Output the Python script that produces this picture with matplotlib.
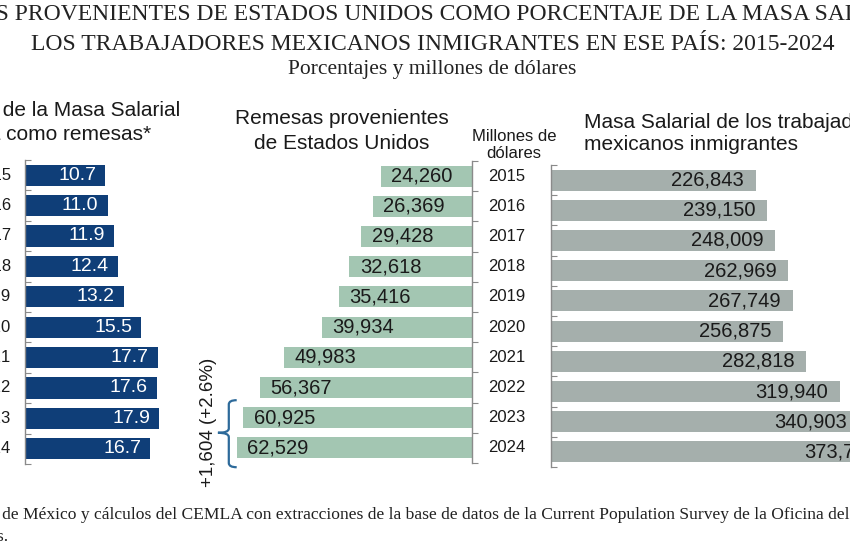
import numpy as np
import matplotlib.pyplot as plt
from matplotlib.path import Path
from matplotlib.patches import PathPatch

# data
years = [2015, 2016, 2017, 2018, 2019, 2020, 2021, 2022, 2023, 2024]
pct_remesas = [10.7, 11.0, 11.9, 12.4, 13.2, 15.5, 17.7, 17.6, 17.9, 16.7]
remesas = [24260, 26369, 29428, 32618, 35416, 39934, 49983, 56367, 60925, 62529]
masa_salarial = [226843, 239150, 248009, 262969, 267749, 256875, 282818, 319940, 340903, 373737]

title_1 = "REMESAS PROVENIENTES DE ESTADOS UNIDOS COMO PORCENTAJE DE LA MASA SALARIAL DE"
title_2 = "LOS TRABAJADORES MEXICANOS INMIGRANTES EN ESE PAÍS: 2015-2024"
subtitle = "Porcentajes y millones de dólares"
footer_1 = ("Banco de México y cálculos del CEMLA con extracciones de la base de datos "
            "de la Current Population Survey de la Oficina del Censo de Estados")
footer_2 = "Unidos."

NAVY = "#0f3e78"
GREEN = "#a3c6b2"
GRAY = "#a5afac"
AXIS = "#8a8a8a"
TXT = "#1a1a1a"

W, H = 850, 550
plt.rcParams["font.family"] = ["Liberation Sans", "DejaVu Sans"]
fig = plt.figure(figsize=(W / 100, H / 100), dpi=100)
renderer = fig.canvas.get_renderer()


def ax_px(x0, y0, x1, y1):
    return fig.add_axes([x0 / W, 1 - y1 / H, (x1 - x0) / W, (y1 - y0) / H])


def txt(x, y, s, **kw):
    return fig.text(x / W, 1 - y / H, s, **kw)


def width_px(s, **kw):
    t = fig.text(0, 0, s, **kw)
    w = t.get_window_extent(renderer).width
    t.remove()
    return w


def txt_anchor(x, y, full, visible, **kw):
    # place full text so that the visible part starts at x (the rest is cut by the edge)
    off = width_px(full, **kw) - width_px(visible, **kw)
    return txt(x - off, y, full, ha="left", **kw)


def style(ax, side, direction):
    for s in ax.spines.values():
        s.set_visible(False)
    ax.spines[side].set_visible(True)
    ax.spines[side].set_color(AXIS)
    ax.spines[side].set_linewidth(1.0)
    ax.set_ylim(len(years) - 0.5, -0.5)
    ax.set_yticks(np.arange(-0.5, len(years)))
    if side == "right":
        ax.yaxis.tick_right()
    ax.tick_params(axis="y", length=4, width=0.8, color=AXIS, direction=direction,
                   labelleft=False, labelright=False)
    ax.set_xticks([])
    ax.patch.set_alpha(0)


pos = np.arange(len(years))
serif = dict(family=["Liberation Serif", "DejaVu Serif"], color="#222222")

# titles
txt_anchor(15, 15, title_1, title_1[8:], va="center", fontsize=17, **serif)
txt(433, 45, title_2, ha="center", va="center", fontsize=17, **serif)
txt(432, 70, subtitle, ha="center", va="center", fontsize=15.5, **serif)

# left panel: percentage
ax1 = ax_px(25, 160, 175, 464)
ax1.barh(pos, pct_remesas, height=0.7, color=NAVY)
ax1.set_xlim(0, 20)
style(ax1, "left", "in")
for i, v in enumerate(pct_remesas):
    ax1.annotate(f"{v:.1f}", xy=(v, i), xytext=(-6.5, 0), textcoords="offset points",
                 ha="right", va="center", color="white", fontsize=14)
    ax1.annotate(str(years[i]), xy=(0, i), xytext=(-10.2, 0), textcoords="offset points",
                 ha="right", va="center", color=TXT, fontsize=12, annotation_clip=False)
txt_anchor(3, 110, "Porcentaje de la Masa Salarial", "de la Masa Salarial",
           va="center", fontsize=15, color=TXT)
txt_anchor(6, 134, "enviada como remesas*", "como remesas*",
           va="center", fontsize=15, color=TXT)

# middle panel: remittances
ax2 = ax_px(209, 161, 472, 463)
ax2.barh(pos, remesas, height=0.7, color=GREEN)
ax2.set_xlim(70000, 0)
style(ax2, "right", "out")
for i, v in enumerate(remesas):
    ax2.annotate(f"{v:,}", xy=(v, i), xytext=(7.5, 0), textcoords="offset points",
                 ha="left", va="center", color=TXT, fontsize=14.5)
    ax2.annotate(str(years[i]), xy=(0, i), xytext=(25.2, 0), textcoords="offset points",
                 ha="center", va="center", color=TXT, fontsize=12, annotation_clip=False)
txt(342, 131, "Remesas provenientes\nde Estados Unidos", ha="center", va="center",
    fontsize=15, color=TXT, linespacing=1.35)
txt(514, 145, "Millones de\ndólares", ha="center", va="center", fontsize=12,
    color=TXT, linespacing=1.2)

# brace over the last two years
x_arm = max(remesas[-2:]) + 100
x_spine = x_arm + 2100
x_tip = x_spine + 2900
y_top, y_mid, y_bot, r = len(years) - 2.58, len(years) - 1.5, len(years) - 0.36, 0.14
verts = [(x_arm, y_top), (x_spine, y_top), (x_spine, y_top + r),
         (x_spine, y_mid - r), (x_spine, y_mid), (x_tip, y_mid),
         (x_spine, y_mid), (x_spine, y_mid + r),
         (x_spine, y_bot - r), (x_spine, y_bot), (x_arm, y_bot)]
codes = [Path.MOVETO, Path.CURVE3, Path.CURVE3,
         Path.LINETO, Path.CURVE3, Path.CURVE3,
         Path.CURVE3, Path.CURVE3,
         Path.LINETO, Path.CURVE3, Path.CURVE3]
ax2.add_patch(PathPatch(Path(verts, codes), fill=False, edgecolor="#2d6a9a", lw=1.6,
                        clip_on=False))
diff = remesas[-1] - remesas[-2]
ax2.text(x_tip + 2400, len(years) - 1.85, f"+{diff:,} (+{100 * diff / remesas[-2]:.1f}%)",
         rotation=90, ha="center", va="center", fontsize=13.5, color=TXT, clip_on=False)

# right panel: wage bill
ax3 = ax_px(551, 165, 912, 467)
ax3.barh(pos, masa_salarial, height=0.7, color=GRAY)
ax3.set_xlim(0, 400000)
style(ax3, "left", "in")
for i, v in enumerate(masa_salarial):
    ax3.annotate(f"{v:,}", xy=(v, i), xytext=(-8.3, 0), textcoords="offset points",
                 ha="right", va="center", color=TXT, fontsize=14.5)
txt(584, 134, "Masa Salarial de los trabajadores\nmexicanos inmigrantes", ha="left",
    va="center", fontsize=15, color=TXT, linespacing=1.2)

# footer
txt_anchor(2, 515, footer_1, footer_1[6:], va="center", fontsize=12.6, **serif)
txt(9, 537, footer_2, ha="right", va="center", fontsize=12.6, **serif)

fig.savefig("out.png", dpi=100)
